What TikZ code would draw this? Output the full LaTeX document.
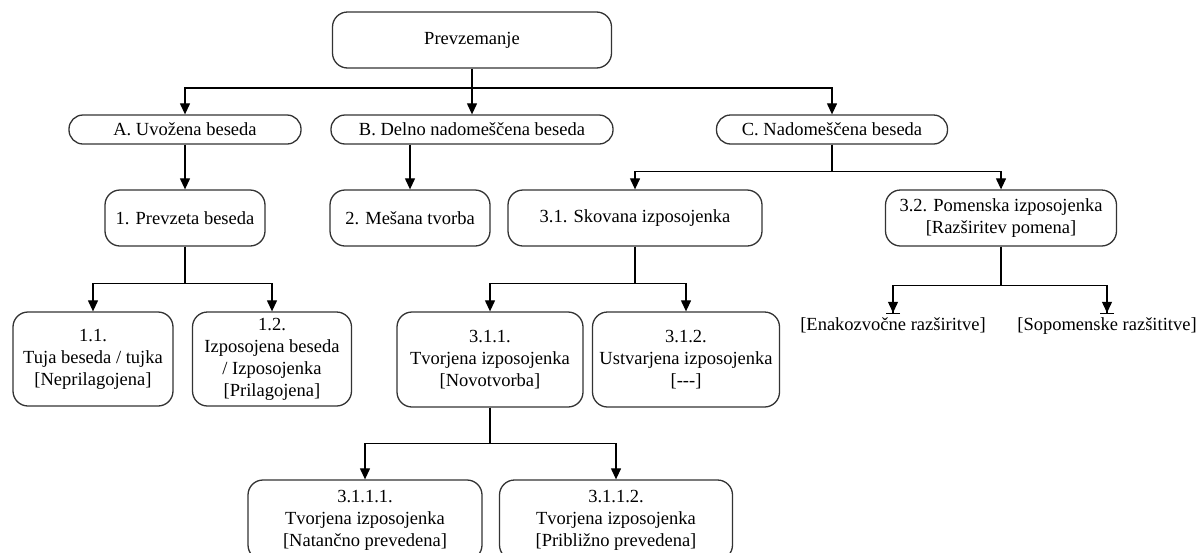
\documentclass[tikz,border=0pt]{standalone}
\usepackage{fontspec}
\setmainfont{Liberation Serif}
\usetikzlibrary{arrows.meta,positioning}

\begin{document}
\begin{tikzpicture}[
    x=1pt, y=-1pt,
    box/.style={rectangle, draw=black!80, line width=1.3pt, rounded corners=15pt, align=center, inner sep=0pt},
    pill/.style={rectangle, draw=black!80, line width=1.3pt, rounded corners=14pt, minimum height=29pt, inner sep=0pt},
    arr/.style={-{Triangle[length=11pt,width=10pt]}, line width=1.2pt},
    barr/.style={-{Triangle[length=11pt,width=10pt]Bar[width=14pt]}, line width=1.2pt},
    font=\fontsize{18.5}{22}\selectfont
]
    \useasboundingbox (0,0) rectangle (1201,552);

    % Root and main groups
    \node[box, minimum width=279pt, minimum height=56pt] (top) at (472,40) {Prevzemanje};
    \node[pill, minimum width=232pt] (A) at (185,129.5) {A. Uvožena beseda};
    \node[pill, minimum width=282pt] (B) at (472,129.5) {B. Delno nadomeščena beseda};
    \node[pill, minimum width=231pt] (C) at (832,129.5) {C. Nadomeščena beseda};

    % Second level
    \node[box, minimum width=160pt, minimum height=56pt] (n1) at (185,218) {1. Prevzeta beseda};
    \node[box, minimum width=160pt, minimum height=56pt] (n2) at (410,218) {2. Mešana tvorba};
    \node[box, minimum width=254pt, minimum height=56pt] (n31) at (635,218) {3.1. Skovana izposojenka};
    \node[box, minimum width=231pt, minimum height=56pt] (n32) at (1001,218) {3.2. Pomenska izposojenka\\{}[Razširitev pomena]};

    % Third level
    \node[box, minimum width=160pt, minimum height=94pt] (n11) at (93,359) {1.1.\\Tuja beseda / tujka\\{}[Neprilagojena]};
    \node[box, minimum width=159pt, minimum height=94pt] (n12) at (272,359) {1.2.\\Izposojena beseda\\/ Izposojenka\\{}[Prilagojena]};
    \node[box, minimum width=186pt, minimum height=95pt] (n311) at (490,359.5) {3.1.1.\\Tvorjena izposojenka\\{}[Novotvorba]};
    \node[box, minimum width=187pt, minimum height=95pt] (n312) at (686,359.5) {3.1.2.\\Ustvarjena izposojenka\\{}[-{}-{}-]};
    \node[anchor=north, inner sep=3pt] (e1) at (893,314) {[Enakozvočne razširitve]};
    \node[anchor=north, inner sep=3pt] (e2) at (1107,314) {[Sopomenske razšititve]};

    % Fourth level
    \node[box, minimum width=234pt, minimum height=80pt] (n3111) at (365,520) {3.1.1.1.\\Tvorjena izposojenka\\{}[Natančno prevedena]};
    \node[box, minimum width=233pt, minimum height=80pt] (n3112) at (616,520) {3.1.1.2.\\Tvorjena izposojenka\\{}[Približno prevedena]};

    % Connectors
    \coordinate (jtop) at (472,88);
    \draw[arr] (top.south) -- (B.north);
    \draw[arr] (jtop) -| (A.north);
    \draw[arr] (jtop) -| (C.north);
    \draw[arr] (A.south) -- (n1.north);
    \draw[arr] (B.south -| n2.north) -- (n2.north);
    \draw[arr] (C.south) -- ++(0,26.5) -| (n31.north);
    \draw[arr] (C.south) -- ++(0,26.5) -| (n32.north);
    \draw[arr] (n1.south) -- ++(0,37) -| (n11.north);
    \draw[arr] (n1.south) -- ++(0,37) -| (n12.north);
    \draw[arr] (n31.south) -- ++(0,37) -| (n311.north);
    \draw[arr] (n31.south) -- ++(0,37) -| (n312.north);
    \draw[barr] (n32.south) -- ++(0,39) -| (e1.north);
    \draw[barr] (n32.south) -- ++(0,39) -| (e2.north);
    \draw[arr] (n311.south) -- ++(0,36) -| (n3111.north);
    \draw[arr] (n311.south) -- ++(0,36) -| (n3112.north);
\end{tikzpicture}
\end{document}
